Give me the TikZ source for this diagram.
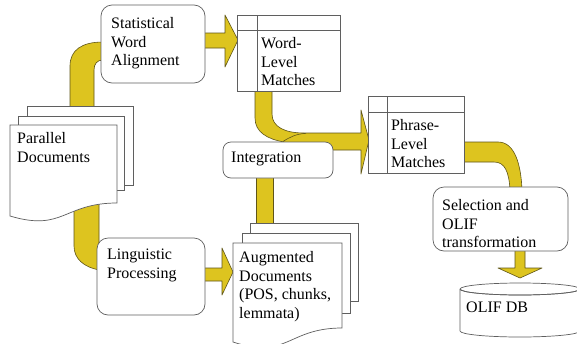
\documentclass[tikz,border=0pt]{standalone}
\usepackage{fontspec}
\IfFontExistsTF{LiberationSerif-Regular.ttf}
  {\newfontfamily\tnrfont{LiberationSerif-Regular.ttf}\def\lblsize{\fontsize{16}{18.8}}}
  {\newfontfamily\tnrfont{Latin Modern Roman}\def\lblsize{\fontsize{14.4}{18.8}}}
\definecolor{arrowfill}{RGB}{221,196,31}
\definecolor{arrowline}{RGB}{95,85,25}
\definecolor{boxline}{RGB}{95,95,95}
\begin{document}
\begin{tikzpicture}[x=1pt,y=-1pt,
  band/.style={fill=arrowfill, draw=arrowline, line width=0.6pt, line join=round},
  procbox/.style={draw=boxline, fill=white, rounded corners=11pt, line width=0.7pt, inner sep=0pt},
  tablebox/.style={draw=boxline, fill=white, line width=0.7pt},
  docpage/.style={draw=boxline, fill=white, line width=0.7pt},
  lbl/.style={font=\tnrfont\lblsize\selectfont, align=left, inner sep=0pt, anchor=north west},
]
\useasboundingbox (0,0) rectangle (577,343);
\fill[white] (0,0) rectangle (577,343);

% ---------- yellow block arrows ----------
% Parallel Documents -> Statistical Word Alignment
\path[band] (70,112) -- (70,66) .. controls (70,50) and (82,42) .. (103,42)
  -- (103,60) .. controls (97,60) and (94,64) .. (94,70) -- (94,112) -- cycle;
% Parallel Documents -> Linguistic Processing
\path[band] (74,200) -- (74,246) .. controls (74,259) and (84,267) .. (99,270)
  -- (99,200) -- cycle;
% Statistical Word Alignment -> Word-Level Matches
\path[band] (203,33) -- (225,33) -- (225,15) -- (238,40) -- (225,67)
  -- (225,48) -- (203,48) -- cycle;
% Linguistic Processing -> Augmented Documents
\path[band] (203,268) -- (222,268) -- (222,248) -- (233,272) -- (222,295)
  -- (222,281) -- (203,281) -- cycle;
% Word-Level Matches -> Phrase-Level Matches
\path[band] (255,88) -- (255,118) .. controls (255,132) and (267,139) .. (284,142)
  -- (300,150) -- (361,150) -- (361,174) -- (369,140) -- (361,110) -- (361,133)
  -- (304,133) .. controls (285,133) and (272,127) .. (272,114) -- (272,88) -- cycle;
\draw[arrowline, line width=0.6pt] (283,141.5) .. controls (290,137) and (296,134) .. (306,133.3);
% Augmented Documents -> Integration
\path[band] (256,230) -- (256,170) -- (273,170) -- (273,230) -- cycle;
% Phrase-Level Matches -> Selection and OLIF transformation
\path[band] (462,142) -- (498,142) .. controls (515,142) and (521,165) .. (522,190)
  -- (510,190) .. controls (509,172) and (505,162) .. (494,162) -- (462,162) -- cycle;
% Selection -> OLIF DB
\path[band] (515,249) -- (525,249) -- (525,268) -- (542,268) -- (520,278)
  -- (498,268) -- (515,268) -- cycle;

% ---------- Parallel Documents ----------
\path[docpage] (27,106) rectangle (133,185);
\path[docpage] (18,116) rectangle (124,190);
\path[docpage] (10,125) -- (117,125) -- (117,203)
  .. controls (63.5,203) and (63.5,232) .. (10,216) -- cycle;
\node[lbl] (pd) at (17,132) {Parallel\\Documents};

% ---------- Augmented Documents ----------
\path[docpage] (250,223) rectangle (358,301);
\path[docpage] (242,233) rectangle (350,313);
\path[docpage] (233,243) -- (342,243) -- (342,328)
  .. controls (287.5,328) and (287.5,360) .. (233,342) -- cycle;
\node[lbl] (aug) at (239,251) {Augmented\\Documents\\(POS, chunks,\\lemmata)};

% ---------- process boxes ----------
\node[procbox, minimum width=104pt, minimum height=78pt] (swa) at (153,44) {};
\node[lbl] (swat) at (111,17) {Statistical\\Word\\Alignment};

\node[procbox, rounded corners=8pt, minimum width=110pt, minimum height=36pt] (integ) at (278,160) {};
\node[lbl] (integt) at (231,152) {Integration};

\node[procbox, minimum width=108pt, minimum height=77pt] (lp) at (151,276.5) {};
\node[lbl] (lpt) at (107,249) {Linguistic\\Processing};

\node[procbox, minimum width=135pt, minimum height=64pt] (sel) at (500.5,219) {};
\node[lbl] (selt) at (442,199) {Selection and\\OLIF\\transformation};

% ---------- tables ----------
\path[tablebox] (237,15) rectangle (340,91);
\draw[boxline, line width=0.7pt] (257,15) -- (257,91) (237,30) -- (340,30);
\node[lbl] (wlm) at (261,37) {Word-\\Level\\Matches};

\path[tablebox] (368,96) rectangle (464,173);
\draw[boxline, line width=0.7pt] (387,96) -- (387,173) (368,112) -- (464,112);
\node[lbl] (plm) at (391,119) {Phrase-\\Level\\Matches};

% ---------- OLIF DB cylinder ----------
\path[draw=boxline, fill=white, line width=0.7pt] (460,289) -- (460,331)
  arc[start angle=180, end angle=360, x radius=60pt, y radius=6pt] -- (580,289)
  arc[start angle=0, end angle=-180, x radius=60pt, y radius=6pt];
\draw[boxline, line width=0.7pt] (520,289) ellipse [x radius=60pt, y radius=6pt];
\node[lbl] (db) at (466,302) {OLIF DB};
\end{tikzpicture}
\end{document}
